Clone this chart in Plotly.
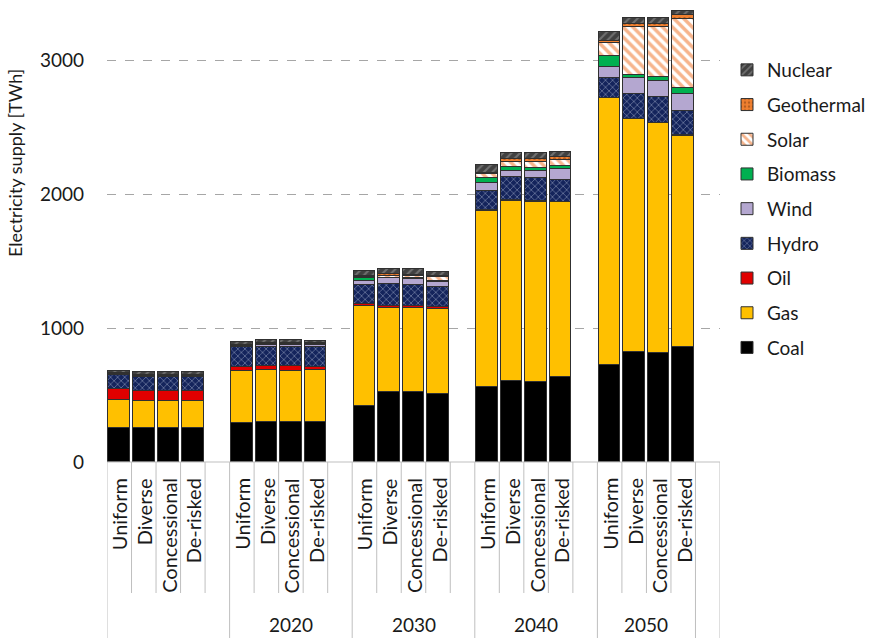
import plotly.graph_objects as go

# ---------------- data ----------------
years = ["", "2020", "2030", "2040", "2050"]
scenarios = ["Uniform", "Diverse", "Concessional", "De-risked"]

# values per group (year) x scenario, TWh
coal = [[251, 251, 251, 251], [293, 301, 301, 301], [420, 525, 525, 507],
        [557, 604, 594, 636], [724, 823, 811, 856]]
gas = [[211, 204, 204, 204], [386, 385, 380, 385], [746, 626, 626, 634],
       [1315, 1345, 1348, 1301], [1989, 1736, 1716, 1578]]
oil = [[80, 76, 76, 76], [32, 32, 37, 25], [13, 15, 15, 13],
       [5, 5, 5, 5], [4, 4, 4, 4]]
hydro = [[107, 105, 105, 105], [145, 138, 138, 145], [141, 162, 154, 149],
         [145, 174, 174, 162], [150, 187, 194, 180]]
wind = [[5, 5, 5, 5], [10, 20, 20, 18], [33, 42, 45, 42],
        [62, 45, 50, 80], [82, 117, 120, 132]]
biomass = [[5, 5, 5, 5], [5, 5, 5, 5], [17, 5, 5, 5],
           [32, 25, 25, 24], [80, 20, 25, 42]]
solar = [[0, 0, 0, 0], [2, 3, 3, 3], [8, 15, 15, 28],
         [32, 42, 44, 45], [99, 361, 378, 513]]
geothermal = [[2, 2, 2, 2], [3, 3, 3, 3], [10, 10, 10, 10],
              [10, 20, 20, 20], [15, 20, 20, 30]]
nuclear = [[20, 23, 23, 23], [22, 23, 23, 20], [37, 40, 42, 32],
           [57, 43, 43, 37], [63, 42, 42, 30]]

y_ticks = [0, 1000, 2000, 3000]

# ---------------- layout helpers ----------------
slots_per_group = 5          # 4 scenarios + 1 blank slot
n_slots = slots_per_group * len(years)
positions = [g * slots_per_group + s for g in range(len(years)) for s in range(len(scenarios))]
# label spans of the year groups (slot boundary indices)
group_spans = [(0, 5), (5, 10), (10, 15), (15, 20), (20, 24)]
long_bounds = sorted({b for span in group_spans for b in span} | {n_slots})

FONT = "Lato"
TXT = "#1a1a1a"
px_h = 456  # plot height in px
px_w = 613  # plot width in px


def flat(arr):
    return [v for row in arr for v in row]


series = [
    ("Coal", coal, dict(color="#000000")),
    ("Gas", gas, dict(color="#FFC000")),
    ("Oil", oil, dict(color="#E00000")),
    ("Hydro", hydro, dict(color="#14245C", pattern=dict(shape="x", fgcolor="#DDE6F5", size=5, solidity=0.25))),
    ("Wind", wind, dict(color="#B4A7D0")),
    ("Biomass", biomass, dict(color="#00B050")),
    ("Solar", solar, dict(color="#FFFFFF", pattern=dict(shape="\\", fgcolor="#EE6A1A", size=7, solidity=0.5))),
    ("Geothermal", geothermal, dict(color="#F08030", pattern=dict(shape=".", fgcolor="#7A3A10", size=5, solidity=0.3))),
    ("Nuclear", nuclear, dict(color="#404040", pattern=dict(shape="/", fgcolor="#A0A0A0", size=6, solidity=0.35))),
]

fig = go.Figure()
n_series = len(series)
for i, (name, vals, mk) in enumerate(series):
    marker = dict(mk)
    marker["line"] = dict(color="#303030", width=1)
    fig.add_trace(go.Bar(
        x=positions, y=flat(vals), name=name, legendgroup=name,
        legendrank=n_series - i,
        marker=marker, width=0.88,
    ))

shapes = []
shapes.append(dict(type="line", xref="x", yref="paper", x0=-0.5, x1=n_slots - 0.5, y0=0, y1=0,
                   line=dict(color="#BFBFBF", width=1)))
short_end = -(593 - 462) / px_h
long_end = -(640 - 462) / px_h
for b in range(n_slots + 1):
    shapes.append(dict(type="line", xref="x", yref="paper", x0=b - 0.5, x1=b - 0.5,
                       y0=0, y1=long_end if b in long_bounds else short_end,
                       line=dict(color="#BFBFBF", width=1)))

annotations = []
for g in range(len(years)):
    for s in range(len(scenarios)):
        annotations.append(dict(x=g * slots_per_group + s, y=-(476 - 462) / px_h, xref="x", yref="paper",
                                text=scenarios[s], textangle=-90, xanchor="center", yanchor="top",
                                showarrow=False, font=dict(family=FONT, size=20, color=TXT)))
for yr, (a, b) in zip(years, group_spans):
    if yr:
        annotations.append(dict(x=(a + b) / 2 - 0.5, y=-(624 - 462) / px_h, xref="x", yref="paper",
                                text=yr, showarrow=False, xanchor="center", yanchor="middle",
                                font=dict(family=FONT, size=19, color=TXT)))
annotations.append(dict(x=-(107 - 15) / px_w, y=(462 - 163) / px_h, xref="paper", yref="paper",
                        text="Electricity supply [TWh]", textangle=-90, showarrow=False,
                        xanchor="center", yanchor="middle",
                        font=dict(family=FONT, size=18, color=TXT)))

fig.update_layout(
    width=871, height=638,
    margin=dict(l=107, r=151, t=6, b=176, autoexpand=False),
    barmode="stack",
    plot_bgcolor="white", paper_bgcolor="white",
    font=dict(family=FONT, size=19, color=TXT),
    xaxis=dict(range=[-0.5, n_slots - 0.5], showticklabels=False, showgrid=False,
               zeroline=False, showline=False, ticks=""),
    yaxis=dict(range=[0, 1000 * px_h / 134], tickvals=y_ticks, showgrid=True,
               gridcolor="#A6A6A6", griddash="dash", gridwidth=1, zeroline=False,
               showline=False, ticks="", ticklabelstandoff=22,
               tickfont=dict(family=FONT, size=19, color=TXT)),
    legend=dict(x=1 + 7 / px_w, y=(462 - 51) / px_h, xanchor="left", yanchor="top",
                traceorder="grouped", tracegroupgap=7, itemwidth=30,
                font=dict(family=FONT, size=19, color=TXT), bgcolor="rgba(0,0,0,0)"),
    shapes=shapes, annotations=annotations,
    bargap=0,
)

fig.write_html("out.html", post_script="document.body.style.margin='0';",
               config={"displayModeBar": False})
